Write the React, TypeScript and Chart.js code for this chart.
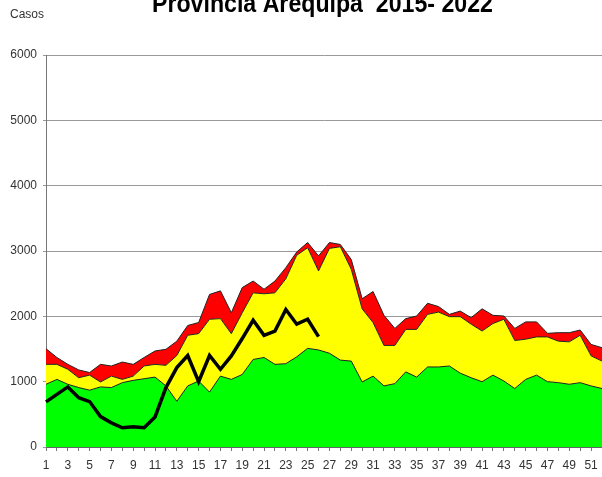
import { useEffect, useRef } from 'react';
import { Chart, registerables } from 'chart.js';

Chart.register(...registerables);

const weeks = [
  '1', '2', '3', '4', '5', '6', '7', '8', '9', '10', '11', '12', '13',
  '14', '15', '16', '17', '18', '19', '20', '21', '22', '23', '24', '25', '26',
  '27', '28', '29', '30', '31', '32', '33', '34', '35', '36', '37', '38', '39',
  '40', '41', '42', '43', '44', '45', '46', '47', '48', '49', '50', '51', '52',
];

// Zona de éxito (upper limit)
const exito = [
  960, 1035, 960, 910, 870, 920, 910, 985, 1020, 1045, 1070, 935, 700,
  935, 1010, 840, 1085, 1035, 1110, 1340, 1370, 1265, 1275, 1380, 1510, 1485,
  1435, 1330, 1315, 995, 1085, 935, 970, 1150, 1070, 1225, 1225, 1240, 1130,
  1060, 1000, 1100, 1010, 895, 1035, 1100, 1000, 985, 960, 985, 935, 895,
];

// Zona de seguridad (upper limit)
const seguridad = [
  1265, 1265, 1190, 1060, 1100, 995, 1085, 1035, 1085, 1240, 1265, 1250, 1400,
  1710, 1735, 1955, 1965, 1735, 2055, 2360, 2345, 2360, 2575, 2935, 3050, 2695,
  3040, 3065, 2720, 2115, 1905, 1555, 1555, 1800, 1800, 2030, 2065, 1995, 1995,
  1880, 1775, 1890, 1955, 1630, 1650, 1685, 1685, 1620, 1610, 1710, 1395, 1315,
];

// Zona de alarma (upper limit)
const alarma = [
  1505, 1370, 1265, 1180, 1140, 1265, 1240, 1300, 1265, 1370, 1470, 1495, 1620,
  1860, 1905, 2335, 2390, 2055, 2440, 2540, 2415, 2540, 2745, 2985, 3130, 2925,
  3130, 3100, 2870, 2270, 2380, 2015, 1815, 1965, 2005, 2200, 2150, 2030, 2080,
  1980, 2115, 2015, 2005, 1815, 1915, 1915, 1740, 1750, 1750, 1790, 1570, 1520,
];

// Casos 2022
const casos2022 = [
  690, 805, 920, 755, 695, 465, 370, 295, 310, 295, 460, 910, 1215,
  1400, 1000, 1400, 1190, 1395, 1660, 1940, 1710, 1775, 2105, 1880, 1955, 1690,
  null, null, null, null, null, null, null, null, null, null, null, null, null,
  null, null, null, null, null, null, null, null, null, null, null, null, null,
];

const titleText = 'Provincia Arequipa  2015- 2022';
const yAxisTitle = 'Casos';
const FONT = '"Liberation Sans", Arial, sans-serif';

export default function App() {
  const ref = useRef<HTMLCanvasElement>(null);

  useEffect(() => {
    document.body.style.margin = '0';
    const textPlugin = {
      id: 'textPlugin',
      afterDraw(chart: any) {
        const ctx = chart.ctx;
        ctx.save();
        ctx.fillStyle = '#000';
        ctx.font = `bold 26px ${FONT}`;
        ctx.textBaseline = 'alphabetic';
        ctx.textAlign = 'left';
        const w = ctx.measureText(titleText).width;
        ctx.translate(152, 12);
        ctx.scale(341 / w, 1);
        ctx.fillText(titleText, 0, 0);
        ctx.restore();

        ctx.save();
        ctx.fillStyle = '#333';
        ctx.font = `12px ${FONT}`;
        ctx.textBaseline = 'middle';
        ctx.textAlign = 'left';
        ctx.fillText(yAxisTitle, 10, 15);
        ctx.restore();
      },
    };

    const band = (data: number[], color: string, fill: any) => ({
      data,
      fill,
      backgroundColor: color,
      borderColor: '#222',
      borderWidth: 1,
      pointRadius: 0,
      tension: 0,
      order: 1,
    });

    const chart = new Chart(ref.current as HTMLCanvasElement, {
      type: 'line',
      data: {
        labels: weeks,
        datasets: [
          { label: 'Éxito', ...band(exito, '#00ff00', 'origin') },
          { label: 'Seguridad', ...band(seguridad, '#ffff00', '-1') },
          { label: 'Alarma', ...band(alarma, '#ff0000', '-1') },
          {
            label: '2022',
            data: casos2022,
            fill: false,
            borderColor: '#000',
            borderWidth: 3.5,
            pointRadius: 0,
            tension: 0,
            spanGaps: false,
            order: 0,
          },
        ],
      },
      options: {
        animation: false,
        responsive: false,
        events: [],
        layout: { padding: { top: 55, right: 0, left: 0, bottom: 0 } },
        plugins: {
          legend: { display: false },
          tooltip: { enabled: false },
          title: { display: false },
        },
        scales: {
          x: {
            offset: false,
            grid: { drawOnChartArea: false, drawTicks: true, tickLength: 4, color: '#777' },
            border: { color: '#666' },
            ticks: {
              autoSkip: false,
              maxRotation: 0,
              minRotation: 0,
              color: '#333',
              padding: 7,
              font: { size: 12, family: FONT },
              callback: (_v: any, i: number) => (i % 2 === 0 ? weeks[i] : ''),
            },
            afterFit: (s: any) => {
              s.height = 30;
            },
          },
          y: {
            min: 0,
            max: 6000,
            ticks: {
              stepSize: 1000,
              color: '#333',
              padding: 6,
              font: { size: 12, family: FONT },
              callback: (v: any) => String(v),
            },
            grid: { color: '#999', tickLength: 3, drawTicks: true },
            border: { color: '#777' },
            afterFit: (s: any) => {
              s.width = 46;
            },
          },
        },
      },
      plugins: [textPlugin],
    });
    return () => chart.destroy();
  }, []);

  return (
    <div style={{ position: 'absolute', left: 0, top: 0, width: 602, height: 477, overflow: 'hidden', background: '#fff' }}>
      <canvas ref={ref} width={609} height={477} style={{ display: 'block' }} />
    </div>
  );
}
